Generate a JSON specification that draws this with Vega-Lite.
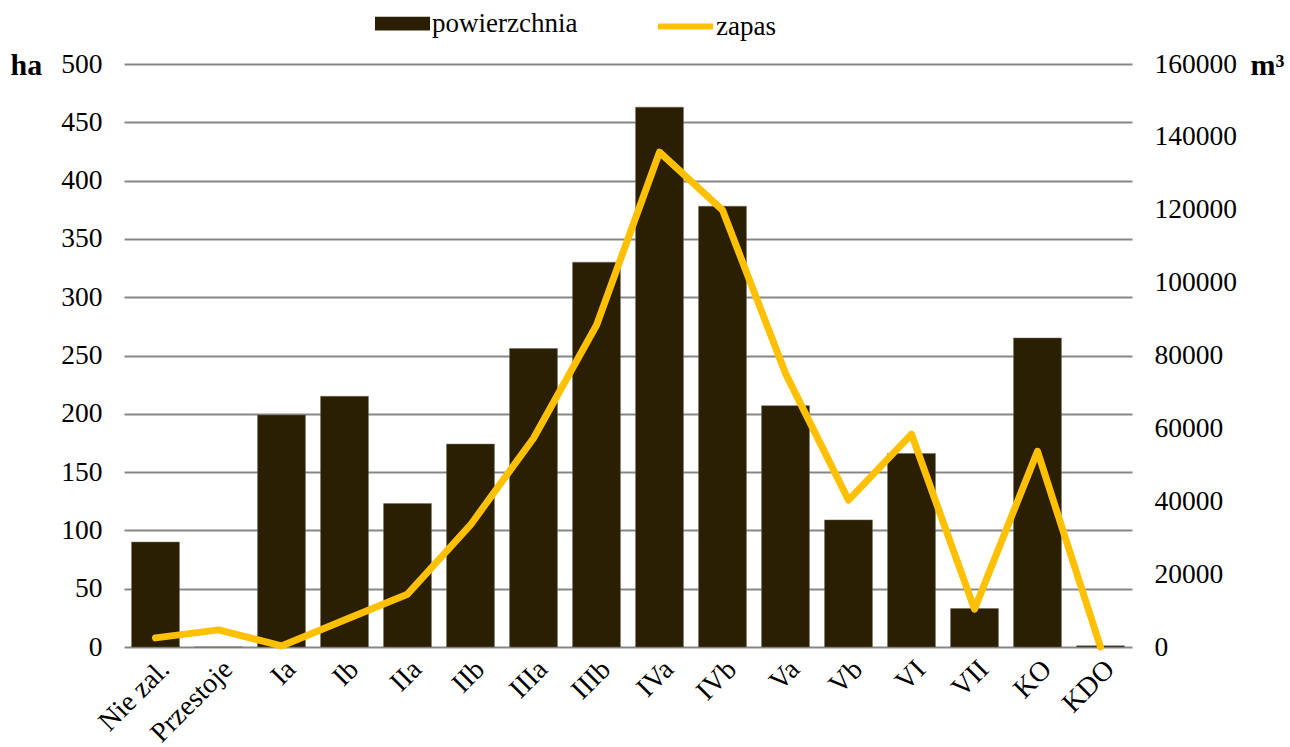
{
  "$schema": "https://vega.github.io/schema/vega-lite/v6.json",
  "autosize": {"type": "none"},
  "width": 1008,
  "height": 583,
  "padding": {"left": 124, "top": 64, "right": 158, "bottom": 100},
  "config": {
    "font": "Liberation Serif",
    "view": {"stroke": null},
    "axis": {"labelFont": "Liberation Serif", "labelFontSize": 27.5, "labelColor": "#000000", "titleFont": "Liberation Serif", "titleColor": "#000000"},
    "legend": {"labelFont": "Liberation Serif", "labelFontSize": 27, "labelColor": "#000000"}
  },
  "data": {
    "values": [
      {"klasa": "Nie zal.", "powierzchnia": 90, "zapas": 2500},
      {"klasa": "Przestoje", "powierzchnia": 0, "zapas": 4700},
      {"klasa": "Ia", "powierzchnia": 199, "zapas": 300},
      {"klasa": "Ib", "powierzchnia": 215, "zapas": 7400},
      {"klasa": "IIa", "powierzchnia": 123, "zapas": 14500},
      {"klasa": "IIb", "powierzchnia": 174, "zapas": 33500},
      {"klasa": "IIIa", "powierzchnia": 256, "zapas": 57300},
      {"klasa": "IIIb", "powierzchnia": 330, "zapas": 88300},
      {"klasa": "IVa", "powierzchnia": 463, "zapas": 135800},
      {"klasa": "IVb", "powierzchnia": 378, "zapas": 119900},
      {"klasa": "Va", "powierzchnia": 207, "zapas": 75100},
      {"klasa": "Vb", "powierzchnia": 109, "zapas": 40300},
      {"klasa": "VI", "powierzchnia": 166, "zapas": 58400},
      {"klasa": "VII", "powierzchnia": 33, "zapas": 10400},
      {"klasa": "KO", "powierzchnia": 265, "zapas": 53700},
      {"klasa": "KDO", "powierzchnia": 1, "zapas": 0}
    ]
  },
  "encoding": {
    "x": {
      "field": "klasa", "type": "nominal", "sort": null,
      "scale": {"paddingInner": 0.24, "paddingOuter": 0.12},
      "axis": {"title": null, "labelAngle": -45, "domain": false, "ticks": false, "labelPadding": 8, "labelFontSize": 28}
    }
  },
  "layer": [
    {
      "mark": {"type": "bar", "stroke": "#6e6a5e", "strokeWidth": 0.5},
      "encoding": {
        "y": {
          "field": "powierzchnia", "type": "quantitative",
          "scale": {"domain": [0, 500], "nice": false},
          "axis": {
            "title": "ha", "titleAngle": 0, "titleFontSize": 30, "titleFontWeight": "bold",
            "titleX": -114, "titleY": 1, "titleAlign": "left", "titleBaseline": "middle",
            "values": [0, 50, 100, 150, 200, 250, 300, 350, 400, 450, 500],
            "domain": false, "ticks": false, "labelPadding": 22,
            "grid": true, "gridColor": "#878787", "gridWidth": 2
          }
        },
        "fill": {
          "datum": "powierzchnia",
          "scale": {"range": ["#2b1f03"]},
          "legend": {
            "title": null, "orient": "none", "legendX": 251, "legendY": -68, "padding": 0,
            "labelFont": "Liberation Serif", "labelFontSize": 27,
            "symbolType": "M-1,-0.25H1V0.25H-1Z", "symbolSize": 3025, "symbolStrokeWidth": 0,
            "labelOffset": 2,
            "encode": {"labels": {"update": {"font": {"value": "Liberation Serif"}}}}
          }
        }
      }
    },
    {
      "mark": {"type": "line", "strokeWidth": 7, "strokeJoin": "round", "strokeCap": "round"},
      "encoding": {
        "y": {
          "field": "zapas", "type": "quantitative",
          "scale": {"domain": [0, 160000], "nice": false},
          "axis": {
            "orient": "right", "title": "m³", "titleAngle": 0, "titleFontSize": 30, "titleFontWeight": "bold",
            "titleX": 118, "titleY": 1, "titleAlign": "left", "titleBaseline": "middle",
            "values": [0, 20000, 40000, 60000, 80000, 100000, 120000, 140000, 160000],
            "format": "d", "domain": false, "ticks": false, "labelPadding": 22, "grid": false
          }
        },
        "stroke": {
          "datum": "zapas",
          "scale": {"range": ["#ffc000"]},
          "legend": {
            "title": null, "orient": "none", "legendX": 531, "legendY": -68, "padding": 0,
            "labelFont": "Liberation Serif", "labelFontSize": 27,
            "symbolType": "stroke", "symbolSize": 3025, "symbolStrokeWidth": 6,
            "labelOffset": 0,
            "encode": {"labels": {"update": {"font": {"value": "Liberation Serif"}}}}
          }
        }
      }
    }
  ],
  "resolve": {"scale": {"y": "independent"}}
}
